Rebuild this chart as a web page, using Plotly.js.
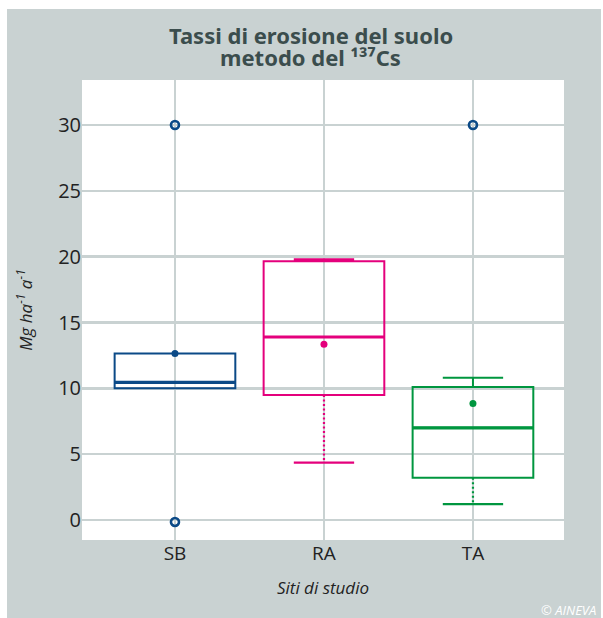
<!DOCTYPE html>
<html><head><meta charset="utf-8">
<script src="https://cdn.plot.ly/plotly-3.0.1.min.js"></script>
<style>
html,body{margin:0;padding:0;background:#fff;}
#chart{position:absolute;left:7px;top:9px;width:594px;height:609px;}
</style>
</head><body><div id="chart"></div>
<script>
// ---- data ----
const sites = ['SB', 'RA', 'TA'];
const sitePos = [0, 1, 2];
const q1 = [10.0, 9.5, 3.2];
const median = [10.45, 13.9, 7.0];
const q3 = [12.65, 19.65, 10.1];
const upperFence = [12.65, 19.8, 10.8];
const lowerFence = [10.0, 4.35, 1.2];
const means = [12.65, 13.35, 8.85];
const outlierPos = [0, 0, 2];
const outlierValue = [30, -0.15, 30];
const yTicks = [0, 5, 10, 15, 20, 25, 30];
const titleLines = ['Tassi di erosione del suolo', 'metodo del \u00b9\u00b3\u2077Cs'];

// ---- styles ----
const colors = ['#0b4a87', '#e4007c', '#00963f'];
const outlierColor = '#0b4a87';
const boxWidth = 0.81;
const whiskerFrac = 0.5;
const capHalf = boxWidth * whiskerFrac / 2;
const medHalf = boxWidth / 2;
const gridColor = '#c9d2d2';
const bg = '#c9d2d2';
const font = 'Open Sans, Noto Sans, sans-serif';

const traces = [];
sites.forEach((s, i) => {
  traces.push({
    type: 'box', x: [sitePos[i]], q1: [q1[i]], median: [median[i]], q3: [q3[i]],
    lowerfence: [q1[i]], upperfence: [upperFence[i]],
    width: boxWidth, whiskerwidth: whiskerFrac,
    line: {color: colors[i], width: 2}, fillcolor: 'rgba(0,0,0,0)',
    boxpoints: false, hoverinfo: 'skip', showlegend: false
  });
  traces.push({
    type: 'scatter', mode: 'lines', x: [sitePos[i] - medHalf, sitePos[i] + medHalf],
    y: [median[i], median[i]], line: {color: colors[i], width: 3.2},
    hoverinfo: 'skip', showlegend: false
  });
  if (lowerFence[i] < q1[i]) {
    traces.push({
      type: 'scatter', mode: 'lines', x: [sitePos[i], sitePos[i]],
      y: [q1[i], lowerFence[i]], line: {color: colors[i], width: 2.2, dash: '2px,2.5px'},
      hoverinfo: 'skip', showlegend: false
    });
    traces.push({
      type: 'scatter', mode: 'lines', x: [sitePos[i] - capHalf, sitePos[i] + capHalf],
      y: [lowerFence[i], lowerFence[i]], line: {color: colors[i], width: 2.2},
      hoverinfo: 'skip', showlegend: false
    });
  }
  traces.push({
    type: 'scatter', mode: 'markers', x: [sitePos[i]], y: [means[i]],
    marker: {color: colors[i], size: 7, symbol: 'circle'},
    hoverinfo: 'skip', showlegend: false
  });
});
traces.push({
  type: 'scatter', mode: 'markers', x: outlierPos, y: outlierValue,
  marker: {symbol: 'circle-open', size: 8, color: outlierColor, line: {width: 2.6, color: outlierColor}},
  hoverinfo: 'skip', showlegend: false
});

const titleFont = {size: 22, color: '#3b4d4d', family: 'Noto Sans, Open Sans, sans-serif', weight: 'bold'};

const layout = {
  width: 594, height: 609,
  margin: {l: 75, r: 37, t: 71, b: 78},
  paper_bgcolor: bg, plot_bgcolor: '#ffffff',
  font: {family: font, color: '#222'},
  xaxis: {
    range: [-0.624, 2.611], tickmode: 'array', tickvals: sitePos, ticktext: sites,
    showgrid: true, gridcolor: gridColor, gridwidth: 2.5, zeroline: false,
    showline: false, ticks: '', tickfont: {size: 19, color: '#222'},
    title: {text: '<i>Siti di studio</i>', font: {size: 17, color: '#222'}, standoff: 17}
  },
  yaxis: {
    range: [-1.52, 33.42], tickmode: 'array', tickvals: yTicks,
    showgrid: true, gridcolor: gridColor, gridwidth: 2.5, zeroline: false,
    showline: false, ticks: '', ticklen: 0, tickfont: {size: 20, color: '#222'},
    title: {text: '<i>Mg ha<sup>-1</sup> a<sup>-1</sup></i>', font: {size: 17, color: '#222'}, standoff: 21}
  },
  annotations: [
    {text: titleLines[0], xref: 'paper', yref: 'paper', x: 0.4745, y: 1.098,
     xanchor: 'center', yanchor: 'middle', showarrow: false, font: titleFont},
    {text: titleLines[1], xref: 'paper', yref: 'paper', x: 0.4745, y: 1.05,
     xanchor: 'center', yanchor: 'middle', showarrow: false, font: titleFont},
    {text: '<i>© AINEVA</i>', xref: 'paper', yref: 'paper', x: 1.07, y: -0.152,
     xanchor: 'right', yanchor: 'middle', showarrow: false,
     font: {size: 13, color: '#ffffff'}}
  ]
};

Plotly.newPlot('chart', traces, layout, {displayModeBar: false, staticPlot: true});
</script>
</body></html>
